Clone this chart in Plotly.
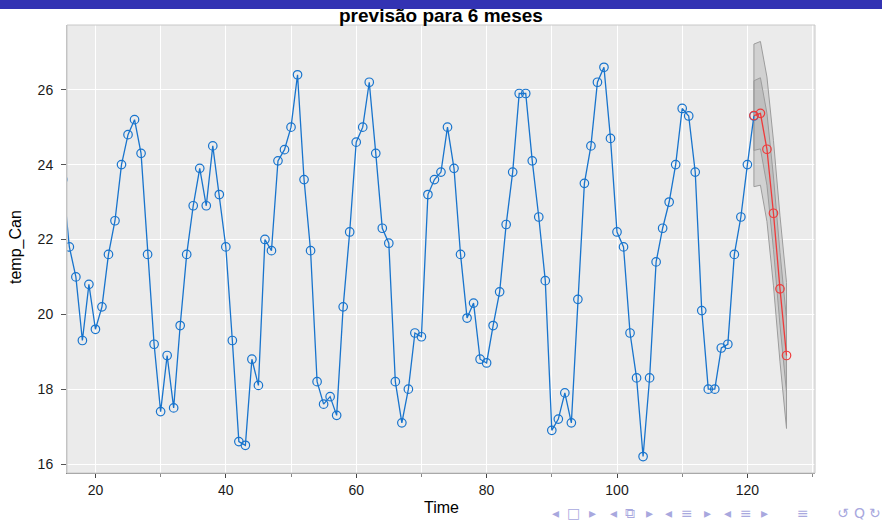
import plotly.graph_objects as go

# ---- observed series (monthly temperature, Time 15..121) ----
time_obs = list(range(15, 122))
temp_obs = [
    23.6,
    21.8, 21.0, 19.3, 20.8, 19.6, 20.2, 21.6, 22.5, 24.0, 24.8,
    25.2, 24.3, 21.6, 19.2, 17.4, 18.9, 17.5, 19.7, 21.6, 22.9,
    23.9, 22.9, 24.5, 23.2, 21.8, 19.3, 16.6, 16.5, 18.8, 18.1,
    22.0, 21.7, 24.1, 24.4, 25.0, 26.4, 23.6, 21.7, 18.2, 17.6,
    17.8, 17.3, 20.2, 22.2, 24.6, 25.0, 26.2, 24.3, 22.3, 21.9,
    18.2, 17.1, 18.0, 19.5, 19.4, 23.2, 23.6, 23.8, 25.0, 23.9,
    21.6, 19.9, 20.3, 18.8, 18.7, 19.7, 20.6, 22.4, 23.8, 25.9,
    25.9, 24.1, 22.6, 20.9, 16.9, 17.2, 17.9, 17.1, 20.4, 23.5,
    24.5, 26.2, 26.6, 24.7, 22.2, 21.8, 19.5, 18.3, 16.2, 18.3,
    21.4, 22.3, 23.0, 24.0, 25.5, 25.3, 23.8, 20.1, 18.0, 18.0,
    19.1, 19.2, 21.6, 22.6, 24.0, 25.3,
]

# ---- 6-month forecast with prediction intervals ----
time_fc = [121, 122, 123, 124, 125, 126]
temp_fc = [25.31, 25.37, 24.41, 22.70, 20.68, 18.90]
hi80 = [26.24, 26.32, 25.37, 23.67, 21.65, 19.88]
lo80 = [24.38, 24.42, 23.45, 21.73, 19.71, 17.92]
hi95 = [27.22, 27.29, 26.34, 24.64, 22.63, 20.85]
lo95 = [23.41, 23.45, 22.48, 20.76, 18.73, 16.95]

x_ticks = [20, 40, 60, 80, 100, 120]
y_ticks = [16, 18, 20, 22, 24, 26]

W, H = 882, 520
ML, MR, MT, MB = 67, 67, 25, 47
PW, PH = W - ML - MR, H - MT - MB

BLUE = "#1874CD"
RED = "#EE3B3B"


def px_x(px):
    return (px - ML) / PW


def px_y(py):
    return (H - MB - py) / PH


fig = go.Figure()

# prediction interval ribbons
for lo, hi, fill in [(lo95, hi95, "rgba(150,150,150,0.30)"),
                     (lo80, hi80, "rgba(150,150,150,0.30)")]:
    fig.add_trace(go.Scatter(
        x=time_fc + time_fc[::-1] + [time_fc[0]],
        y=hi + lo[::-1] + [hi[0]],
        mode="lines", fill="toself", fillcolor=fill,
        line=dict(color="#9C9C9C", width=1),
        hoverinfo="skip", showlegend=False,
    ))

# observed series
fig.add_trace(go.Scatter(
    x=time_obs, y=temp_obs, mode="lines+markers",
    line=dict(color=BLUE, width=1.3),
    marker=dict(symbol="circle-open", size=8.5, color=BLUE, line=dict(width=1.2)),
    showlegend=False,
))

# forecast
fig.add_trace(go.Scatter(
    x=time_fc, y=temp_fc, mode="lines+markers",
    line=dict(color=RED, width=1.3),
    marker=dict(symbol="circle-open", size=8.5, color=RED, line=dict(width=1.2)),
    showlegend=False,
))

axis_font = dict(family="Liberation Sans, Arial, sans-serif", size=14, color="#1a1a1a")

fig.update_xaxes(
    range=[15.64, 130.37], tickvals=x_ticks,
    showgrid=True, gridcolor="white", gridwidth=1.3,
    ticks="outside", ticklen=4, tickwidth=1.3, tickcolor="#444",
    minor=dict(dtick=10, tick0=0, showgrid=True, gridcolor="white", gridwidth=1.3,
               ticks="outside", ticklen=3, tickcolor="#888", tickwidth=1),
    showline=True, linecolor="#8A8A8A", linewidth=1.3,
    tickfont=axis_font, zeroline=False,
)
fig.update_yaxes(
    range=[15.76, 27.73], tickvals=y_ticks,
    showgrid=True, gridcolor="white", gridwidth=1.3,
    ticks="outside", ticklen=5, tickwidth=1.3, tickcolor="#555",
    showline=True, linecolor="#BDBDBD", linewidth=1,
    tickfont=axis_font, zeroline=False, ticklabelstandoff=5,
)

nav = [("◂", 555), ("□", 573), ("▸", 592), ("◂", 613), ("⧉", 630), ("▸", 649),
       ("◂", 668), ("≡", 687), ("▸", 707), ("◂", 727), ("≡", 746), ("▸", 764),
       ("≡", 803), ("↺", 843), ("Q", 859), ("↻", 875)]

annotations = [
    # plot title
    dict(text="<b>previsão para 6 meses</b>", x=0.5, y=px_y(15.5), xref="paper", yref="paper",
         xanchor="center", yanchor="middle", showarrow=False,
         font=dict(family="Liberation Sans, Arial, sans-serif", size=19, color="black")),
    # slide header bar
    dict(text=" ", x=0.5, y=px_y(0), xref="paper", yref="paper",
         xanchor="center", yanchor="top", showarrow=False,
         width=W + 4, height=9, bgcolor="#3333B3", borderpad=0, borderwidth=0,
         font=dict(size=6)),
    # axis titles
    dict(text="Time", x=px_x(441), y=px_y(507), xref="paper", yref="paper",
         xanchor="center", yanchor="middle", showarrow=False,
         font=dict(family="Liberation Sans, Arial, sans-serif", size=16, color="black")),
    dict(text="temp_Can", x=px_x(16), y=px_y(247), xref="paper", yref="paper",
         xanchor="center", yanchor="middle", showarrow=False, textangle=-90,
         font=dict(family="Liberation Sans, Arial, sans-serif", size=16, color="black")),
]
for sym, xp in nav:
    annotations.append(dict(
        text=sym, x=px_x(xp), y=px_y(513), xref="paper", yref="paper",
        xanchor="center", yanchor="middle", showarrow=False,
        font=dict(family="DejaVu Sans, sans-serif", size=14, color="#A8A8DE"),
    ))

fig.update_layout(
    width=W, height=H,
    margin=dict(l=ML, r=MR, t=MT, b=MB, pad=0),
    paper_bgcolor="white", plot_bgcolor="#EBEBEB",
    showlegend=False,
    annotations=annotations,
    shapes=[dict(type="rect", xref="paper", yref="paper", x0=0, x1=1, y0=0, y1=1,
                 line=dict(color="#C8C8C8", width=1), fillcolor="rgba(0,0,0,0)",
                 layer="above")],
)

fig.write_html("out.html")
